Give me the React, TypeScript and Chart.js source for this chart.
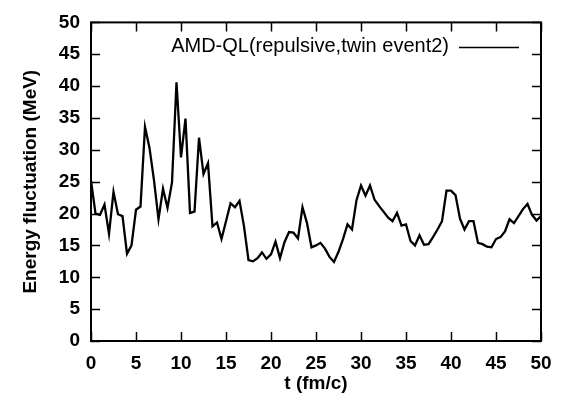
import React, { useEffect, useRef } from "react";
import { Chart, registerables } from "chart.js";

Chart.register(...registerables);

const SERIES_LABEL = "AMD-QL(repulsive,twin event2)";
const X_TITLE = "t (fm/c)";
const Y_TITLE = "Energy fluctuation (MeV)";

const TIME = [
  0, 0.5, 1, 1.5, 2, 2.5, 3, 3.5, 4, 4.5, 5, 5.5, 6, 6.5, 7, 7.5, 8, 8.5, 9, 9.5,
  10, 10.5, 11, 11.5, 12, 12.5, 13, 13.5, 14, 14.5, 15, 15.5, 16, 16.5, 17, 17.5, 18, 18.5, 19, 19.5,
  20, 20.5, 21, 21.5, 22, 22.5, 23, 23.5, 24, 24.5, 25, 25.5, 26, 26.5, 27, 27.5, 28, 28.5, 29, 29.5,
  30, 30.5, 31, 31.5, 32, 32.5, 33, 33.5, 34, 34.5, 35, 35.5, 36, 36.5, 37, 37.5, 38, 38.5, 39, 39.5,
  40, 40.5, 41, 41.5, 42, 42.5, 43, 43.5, 44, 44.5, 45, 45.5, 46, 46.5, 47, 47.5, 48, 48.5, 49, 49.5, 50,
];

const ENERGY = [
  25.2, 20.0, 19.8, 21.4, 16.8, 23.4, 19.9, 19.6, 13.7, 15.0, 20.6, 21.1, 33.6, 30.3, 25.2, 19.1, 23.9, 20.9, 24.9, 40.6,
  28.8, 34.9, 20.1, 20.3, 31.9, 26.2, 27.9, 18.0, 18.6, 16.0, 18.8, 21.6, 21.0, 22.0, 18.0, 12.7, 12.5, 13.0, 13.9, 12.9,
  13.6, 15.6, 13.0, 15.5, 17.1, 17.0, 16.1, 21.0, 18.5, 14.7, 15.0, 15.4, 14.5, 13.2, 12.4, 14.0, 16.0, 18.3, 17.5, 22.1,
  24.4, 22.8, 24.4, 22.2, 21.2, 20.3, 19.4, 18.8, 20.1, 18.1, 18.3, 15.7, 15.0, 16.6, 15.1, 15.2, 16.3, 17.5, 18.8, 23.6,
  23.6, 22.9, 19.2, 17.5, 18.8, 18.8, 15.4, 15.2, 14.8, 14.7, 16.0, 16.3, 17.2, 19.1, 18.5, 19.6, 20.7, 21.5, 19.8, 18.9, 19.6,
];

const X_MIN = 0;
const X_MAX = 50;
const X_STEP = 5;
const Y_MIN = 0;
const Y_MAX = 50;
const Y_STEP = 5;

const FONT_FAMILY = "'Liberation Sans', Arial, Helvetica, sans-serif";

const framePlugin = {
  id: "gnuplotFrame",
  afterDraw(chart: any) {
    const { ctx, chartArea, scales } = chart;
    const { left, right, top, bottom } = chartArea;
    const tickLen = 9;
    ctx.save();
    ctx.strokeStyle = "#000";
    ctx.lineWidth = 1.5;
    // inward ticks on all four sides
    ctx.beginPath();
    scales.x.ticks.forEach((t: any) => {
      const px = Math.round(scales.x.getPixelForValue(t.value)) + 0.5;
      ctx.moveTo(px, bottom);
      ctx.lineTo(px, bottom - tickLen);
      ctx.moveTo(px, top);
      ctx.lineTo(px, top + tickLen);
    });
    scales.y.ticks.forEach((t: any) => {
      const py = Math.round(scales.y.getPixelForValue(t.value)) + 0.5;
      ctx.moveTo(left, py);
      ctx.lineTo(left + tickLen, py);
      ctx.moveTo(right, py);
      ctx.lineTo(right - tickLen, py);
    });
    ctx.stroke();
    // frame
    ctx.lineWidth = 2;
    ctx.strokeRect(left, top, right - left, bottom - top);
    // legend (gnuplot style: text then line sample)
    const ds = chart.data.datasets[0];
    const ly = top + 24;
    ctx.font = `20px ${FONT_FAMILY}`;
    ctx.fillStyle = "#000";
    ctx.textAlign = "right";
    ctx.textBaseline = "middle";
    const textRight = right - 92;
    ctx.fillText(ds.label, textRight, ly);
    ctx.beginPath();
    ctx.lineWidth = 1.5;
    ctx.moveTo(textRight + 10, ly + 1);
    ctx.lineTo(right - 22, ly + 1);
    ctx.stroke();
    ctx.restore();
  },
};

export default function App() {
  const canvasRef = useRef<HTMLCanvasElement | null>(null);

  useEffect(() => {
    const canvas = canvasRef.current;
    if (!canvas) return;
    const points = TIME.map((t, i) => ({ x: t, y: ENERGY[i] }));
    const tickFont = { family: FONT_FAMILY, size: 19, weight: "bold" as const };
    const titleFont = { family: FONT_FAMILY, size: 19, weight: "bold" as const };
    const chart = new Chart(canvas, {
      type: "line",
      data: {
        datasets: [
          {
            label: SERIES_LABEL,
            data: points,
            borderColor: "#000",
            borderWidth: 2.3,
            pointRadius: 0,
            tension: 0,
            fill: false,
          },
        ],
      },
      options: {
        responsive: false,
        animation: false,
        devicePixelRatio: 1,
        layout: { padding: { left: 0, right: 26, top: 15, bottom: 0 } },
        plugins: {
          legend: { display: false },
          tooltip: { enabled: false },
        },
        scales: {
          x: {
            type: "linear",
            min: X_MIN,
            max: X_MAX,
            grid: { display: false, drawTicks: false, tickLength: 0 },
            border: { display: false },
            ticks: {
              stepSize: X_STEP,
              color: "#000",
              font: tickFont,
              padding: 11,
              maxRotation: 0,
            },
            title: {
              display: true,
              text: X_TITLE,
              color: "#000",
              font: titleFont,
              padding: { top: 0, bottom: 0 },
            },
            afterFit: (s: any) => {
              s.height = 54;
            },
          },
          y: {
            type: "linear",
            min: Y_MIN,
            max: Y_MAX,
            grid: { display: false, drawTicks: false, tickLength: 0 },
            border: { display: false },
            ticks: {
              stepSize: Y_STEP,
              color: "#000",
              font: tickFont,
              padding: 11,
            },
            title: {
              display: true,
              text: Y_TITLE,
              color: "#000",
              font: titleFont,
              padding: { top: 19, bottom: 0 },
            },
            afterFit: (s: any) => {
              s.width = 91;
            },
          },
        },
      },
      plugins: [framePlugin],
    });
    return () => chart.destroy();
  }, []);

  return (
    <div style={{ position: "fixed", left: 0, top: 0, width: 567, height: 395, background: "#fff" }}>
      <canvas ref={canvasRef} width={567} height={395} />
    </div>
  );
}
